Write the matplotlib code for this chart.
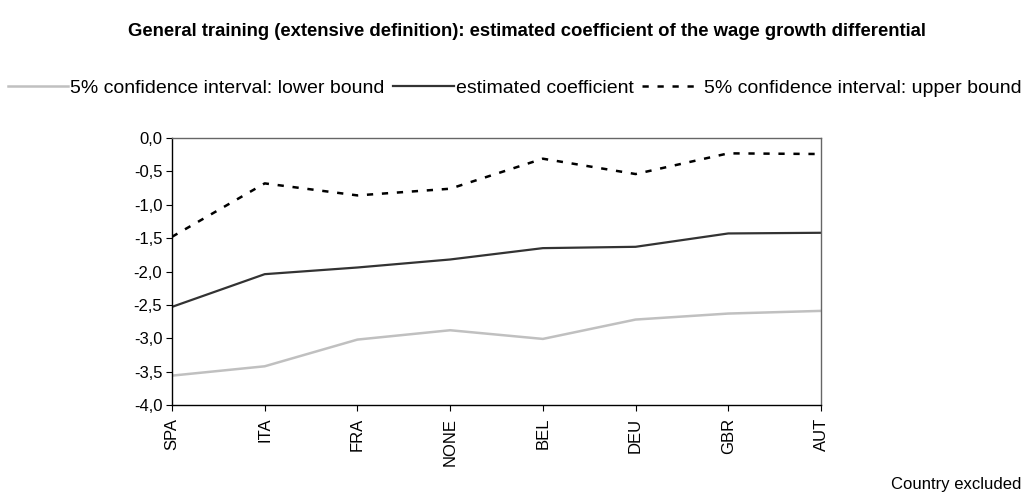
import numpy as np
import matplotlib
matplotlib.use('Agg')
import matplotlib.pyplot as plt
from matplotlib.ticker import FuncFormatter

plt.rcParams['font.family'] = ['Liberation Sans', 'DejaVu Sans']

countries = ['SPA', 'ITA', 'FRA', 'NONE', 'BEL', 'DEU', 'GBR', 'AUT']
lower = [-3.56, -3.42, -3.02, -2.88, -3.01, -2.72, -2.63, -2.59]
coef = [-2.53, -2.04, -1.94, -1.82, -1.65, -1.63, -1.43, -1.42]
upper = [-1.48, -0.68, -0.86, -0.76, -0.31, -0.54, -0.23, -0.24]

fig = plt.figure(figsize=(10.26, 4.96), dpi=100)
ax = fig.add_axes([172 / 1026, 1 - 405 / 496, (821 - 172) / 1026, (405 - 138) / 496])

x = np.arange(len(countries))
ax.plot(x, lower, color='#c0c0c0', lw=1.8, label='5% confidence interval: lower bound')
ax.plot(x, coef, color='#333333', lw=1.6, label='estimated coefficient')
ax.plot(x, upper, color='black', lw=1.8, ls=(0, (2.5, 3.5)), label='5% confidence interval: upper bound')

ax.set_xlim(0, len(countries) - 1)
ax.set_ylim(-4, 0)
ax.set_yticks(np.arange(-4, 0.01, 0.5))
ax.yaxis.set_major_formatter(FuncFormatter(lambda v, p: f'{v:.1f}'.replace('.', ',')))
ax.set_xticks(x)
ax.set_xticklabels(countries, rotation=90)
ax.tick_params(labelsize=12, length=4, direction='out', pad=3)
ax.tick_params(axis='x', pad=5)
for s in ax.spines.values():
    s.set_linewidth(1.0)
ax.spines['right'].set_color('#666666')
ax.spines['top'].set_color('#666666')

fig.text(527 / 1026, 1 - 32 / 496, 'General training (extensive definition): estimated coefficient of the wage growth differential',
         ha='center', va='center', fontsize=13.3, fontweight='bold')
fig.text(1021 / 1026, 1 - 485 / 496, 'Country excluded', ha='right', va='center', fontsize=12)

fig.legend(loc='center', bbox_to_anchor=(515 / 1026, 1 - 88 / 496), ncol=3, frameon=False,
           fontsize=14, handlelength=3.1, handletextpad=0.1, columnspacing=0.45, borderaxespad=0)

fig.savefig('out.png', dpi=100)
